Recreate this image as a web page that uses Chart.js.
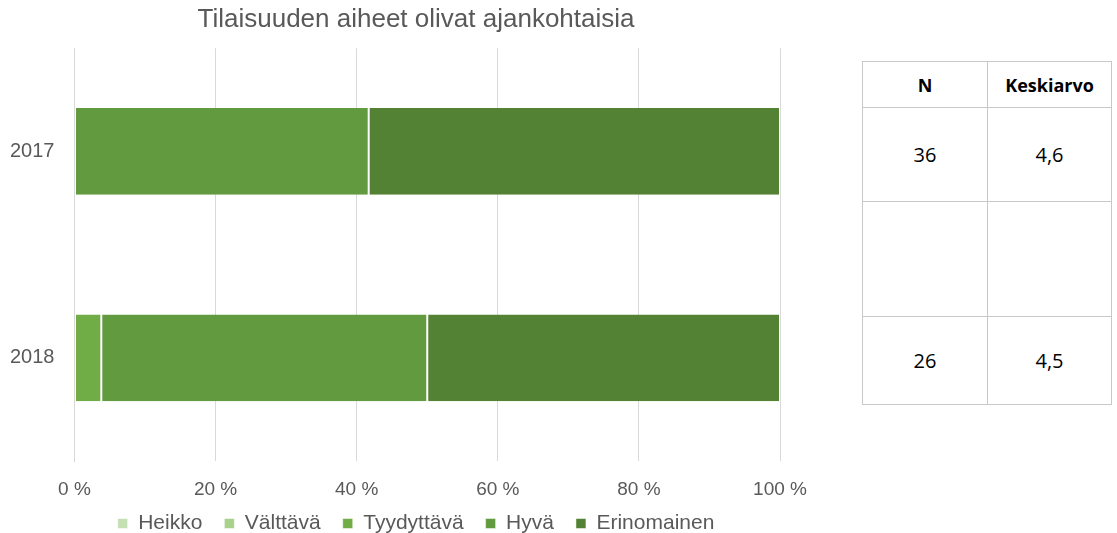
<!DOCTYPE html>
<html>
<head>
<meta charset="utf-8">
<script src="https://cdn.jsdelivr.net/npm/chart.js@4"></script>
<style>
    body { margin: 0; background: #fff; width: 1117px; height: 533px; position: relative; overflow: hidden; }
    #wrap { position: absolute; left: 0; top: 0; width: 830px; height: 554px; }
    table.stats {
        position: absolute; left: 862px; top: 61px;
        border-collapse: collapse;
        font-family: "Open Sans", "Liberation Sans", sans-serif;
        font-size: 20px; color: #000;
    }
    table.stats td, table.stats th {
        border: 1px solid #c8c8c8; text-align: center; padding: 0;
    }
    table.stats th { font-weight: bold; font-size: 18px; height: 45px; }
</style>
</head>
<body>
<div id="wrap"><canvas id="chart" width="830" height="554"></canvas></div>
<table class="stats" id="stats"></table>

<script>
// ---------- DATA ----------
const years = ['2017', '2018'];
const seriesNames = ['Heikko', 'Välttävä', 'Tyydyttävä', 'Hyvä', 'Erinomainen'];
const heikko = [0, 0];
const valttava = [0, 0];
const tyydyttava = [0, 3.8];
const hyva = [41.7, 46.2];
const erinomainen = [58.3, 50.0];
const nValues = ['36', '26'];
const means = ['4,6', '4,5'];
const tickLabels = ['0 %', '20 %', '40 %', '60 %', '80 %', '100 %'];

const colors = ['#c5e0b4', '#a9d18e', '#70ad47', '#629a3f', '#548235'];
const values = [heikko, valttava, tyydyttava, hyva, erinomainen];

// ---------- TABLE ----------
function buildTable() {
    const t = document.getElementById('stats');
    const rowH = [94, 115, 88];
    let html = '<tr><th style="width:124px">N</th><th style="width:123px">Keskiarvo</th></tr>';
    html += `<tr style="height:${rowH[0]}px"><td>${nValues[0]}</td><td>${means[0]}</td></tr>`;
    html += `<tr style="height:${rowH[1]}px"><td></td><td></td></tr>`;
    html += `<tr style="height:${rowH[2]}px"><td>${nValues[1]}</td><td>${means[1]}</td></tr>`;
    t.innerHTML = html;
}
buildTable();

// ---------- LAYOUT TWEAK ----------
// title + legend are centred on the whole figure, not on the padded box
const centerShift = {
    id: 'centerShift',
    afterLayout(chart) {
        const mid = 416;
        [chart.titleBlock, chart.legend].forEach(b => {
            if (!b) return;
            const d = mid - (b.left + b.right) / 2;
            b.left += d;
            b.right += d;
        });
        if (chart.legend) {
            chart.legend.top -= 10;
            chart.legend.bottom -= 10;
        }
    }
};

// ---------- CHART ----------
const grey = '#595959';
new Chart(document.getElementById('chart'), {
    type: 'bar',
    data: {
        labels: years,
        datasets: seriesNames.map((name, i) => ({
            label: name,
            data: values[i],
            backgroundColor: colors[i],
            borderColor: '#ffffff',
            borderWidth: { left: 1, right: 1, top: 0, bottom: 0 },
            borderSkipped: false,
            barPercentage: 0.42,
            categoryPercentage: 1
        }))
    },
    plugins: [centerShift],
    options: {
        indexAxis: 'y',
        responsive: false,
        animation: false,
        layout: { padding: { left: -10, right: 50, top: 0, bottom: 0 } },
        scales: {
            x: {
                stacked: true,
                min: 0, max: 100,
                afterFit: (scale) => { scale.height = 40; },
                ticks: {
                    stepSize: 20,
                    color: grey,
                    font: { family: 'Liberation Sans', size: 19 },
                    padding: 17,
                    callback: (v, i) => tickLabels[i]
                },
                grid: { color: '#d9d9d9', drawTicks: false },
                border: { display: false }
            },
            y: {
                stacked: true,
                ticks: {
                    color: grey,
                    font: { family: 'Liberation Sans', size: 20 },
                    padding: 20
                },
                grid: { display: false, drawTicks: false },
                border: { display: true, color: '#d9d9d9' }
            }
        },
        plugins: {
            title: {
                display: true,
                text: 'Tilaisuuden aiheet olivat ajankohtaisia',
                color: grey,
                font: { family: 'Liberation Sans', size: 26, weight: 'normal' },
                padding: { top: 4, bottom: 13 }
            },
            legend: {
                position: 'bottom',
                labels: {
                    color: grey,
                    font: { family: 'Liberation Sans', size: 21 },
                    boxWidth: 10, boxHeight: 10,
                    padding: 22
                }
            },
            tooltip: { enabled: false }
        }
    }
});
</script>
</body>
</html>
